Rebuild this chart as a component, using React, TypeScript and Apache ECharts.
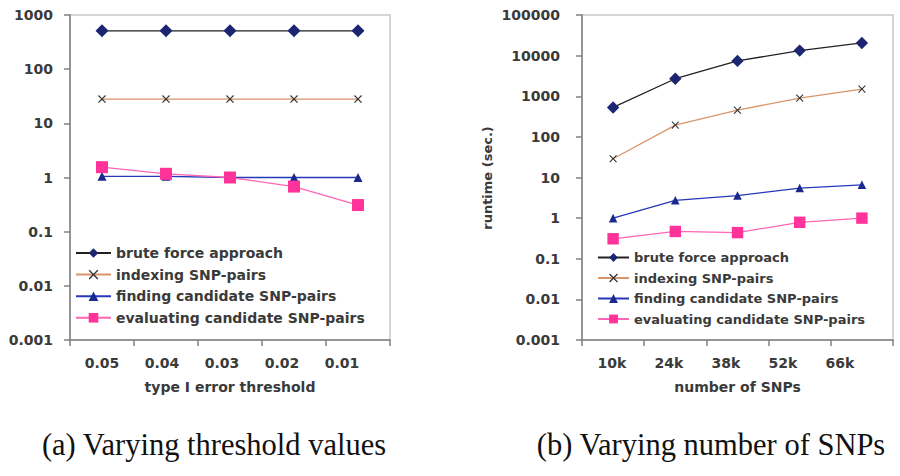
import React, { useEffect, useRef } from "react";
import * as echarts from "echarts";

const seriesNames = [
  "brute force approach",
  "indexing SNP-pairs",
  "finding candidate SNP-pairs",
  "evaluating candidate SNP-pairs",
];

const leftCategories = ["0.05", "0.04", "0.03", "0.02", "0.01"];
const leftBrute = [510, 510, 510, 510, 510];
const leftIndexing = [28, 28, 28, 28, 28];
const leftFinding = [1.05, 1.05, 1.0, 1.0, 1.0];
const leftEval = [1.55, 1.17, 1.0, 0.68, 0.31];

const rightCategories = ["10k", "24k", "38k", "52k", "66k"];
const rightBrute = [530, 2700, 7400, 13300, 20500];
const rightIndexing = [29, 195, 455, 900, 1500];
const rightFinding = [1.0, 2.75, 3.6, 5.5, 6.6];
const rightEval = [0.31, 0.47, 0.44, 0.79, 1.0];

const leftYMin = 0.001;
const leftYMax = 1000;
const rightYMin = 0.001;
const rightYMax = 100000;

const leftXName = "type I error threshold";
const rightXName = "number of SNPs";
const yName = "runtime (sec.)";
const captionA = "(a) Varying threshold values";
const captionB = "(b) Varying number of SNPs";

const FONT = "DejaVu Sans";
const TXT = "#3a3a3a";
const AXIS = "#808080";

const crossPath =
  "path://M0,1 L1,0 L5,4 L9,0 L10,1 L6,5 L10,9 L9,10 L5,6 L1,10 L0,9 L4,5 Z";

const styles = [
  { line: "#222222", mark: "#1b2570", symbol: "diamond", size: 13 },
  { line: "#d9956a", mark: "#333333", symbol: crossPath, size: 8 },
  { line: "#2438b8", mark: "#1a2a8c", symbol: "triangle", size: 9 },
  { line: "#ff66b5", mark: "#ff3399", symbol: "rect", size: 12 },
];

function fmtLog(v: number) {
  return String(Number(v.toPrecision(6)));
}

function makeSeries(data: number[][], axisIdx: number, sizeScale: number) {
  return data.map((d, i) => ({
    name: seriesNames[i],
    type: "line",
    xAxisIndex: axisIdx,
    yAxisIndex: axisIdx,
    data: d,
    symbol: styles[i].symbol,
    symbolSize: styles[i].size * sizeScale,
    lineStyle: { color: styles[i].line, width: 1.3 },
    itemStyle: { color: styles[i].mark },
    z: i === 3 ? 3 : 2,
  }));
}

export default function App() {
  const ref = useRef<HTMLDivElement>(null);
  useEffect(() => {
    if (!ref.current) return;
    const chart = echarts.init(ref.current, undefined, { renderer: "svg" });
    const yAxisCommon = (min: number, max: number, margin: number, gridIndex: number) => ({
      type: "log",
      logBase: 10,
      min,
      max,
      gridIndex,
      axisLine: { show: true, lineStyle: { color: AXIS, width: 1.5 } },
      axisTick: { show: true, length: 6, lineStyle: { color: AXIS, width: 1.5 } },
      axisLabel: {
        margin,
        color: TXT,
        fontFamily: FONT,
        fontWeight: "bold",
        fontSize: 14,
        formatter: (v: number) => fmtLog(v),
      },
      splitLine: { show: false },
      minorTick: { show: false },
    });
    const xMain = (cats: string[], gridIndex: number, name: string) => ({
      type: "category",
      gridIndex,
      data: cats,
      boundaryGap: true,
      axisLine: { show: true, lineStyle: { color: AXIS, width: 1.5 } },
      axisTick: { show: true, length: 6, lineStyle: { color: AXIS, width: 1.5 } },
      axisLabel: { show: false },
      name,
      nameLocation: "middle",
      nameGap: 40,
      nameTextStyle: { color: TXT, fontFamily: FONT, fontWeight: "bold", fontSize: 14 },
    });
    const xLabels = (cats: string[], gridIndex: number) => ({
      type: "category",
      gridIndex,
      data: cats,
      boundaryGap: true,
      axisLine: { show: false },
      axisTick: { show: false },
      axisLabel: {
        show: true,
        margin: 16,
        color: TXT,
        fontFamily: FONT,
        fontWeight: "bold",
        fontSize: 14,
      },
    });
    const hiddenY = (gridIndex: number) => ({
      type: "value",
      gridIndex,
      show: false,
    });
    const legendCommon = {
      orient: "vertical",
      selectedMode: false,
      padding: 0,
      textStyle: { color: TXT, fontFamily: FONT, fontWeight: "bold" },
    };
    chart.setOption({
      animation: false,
      backgroundColor: "#ffffff",
      grid: [
        { left: 70, right: 510, top: 15, bottom: 136, show: true, borderColor: "#c8c8c8", borderWidth: 1.5 },
        { left: 582, right: 7, top: 15, bottom: 136, show: true, borderColor: "#c8c8c8", borderWidth: 1.5 },
        { left: 72, width: 300, top: 15, bottom: 136 },
        { left: 583.5, width: 285, top: 15, bottom: 136 },
      ],
      xAxis: [
        xMain(leftCategories, 0, leftXName),
        xMain(rightCategories, 1, rightXName),
        xLabels(leftCategories, 2),
        xLabels(rightCategories, 3),
      ],
      yAxis: [
        yAxisCommon(leftYMin, leftYMax, 17, 0),
        yAxisCommon(rightYMin, rightYMax, 22, 1),
        hiddenY(2),
        hiddenY(3),
      ],
      legend: [
        {
          ...legendCommon,
          left: 75,
          top: 246,
          itemWidth: 35,
          itemHeight: 12,
          itemGap: 7.6,
          data: seriesNames,
          textStyle: { ...legendCommon.textStyle, fontSize: 14 },
        },
        {
          ...legendCommon,
          left: 597,
          top: 251,
          itemWidth: 31,
          itemHeight: 11,
          itemGap: 7.5,
          data: seriesNames,
          textStyle: { ...legendCommon.textStyle, fontSize: 13 },
        },
      ],
      series: [
        ...makeSeries([leftBrute, leftIndexing, leftFinding, leftEval], 0, 1),
        ...makeSeries([rightBrute, rightIndexing, rightFinding, rightEval], 1, 0.95),
      ],
      graphic: [
        {
          type: "text",
          x: -6.5,
          y: 178,
          rotation: Math.PI / 2,
          style: {
            text: yName,
            align: "center",
            verticalAlign: "middle",
            fill: TXT,
            font: `bold 13px "${FONT}"`,
          },
        },
        {
          type: "text",
          x: 487.5,
          y: 178,
          rotation: Math.PI / 2,
          style: {
            text: yName,
            align: "center",
            verticalAlign: "middle",
            fill: TXT,
            font: `bold 13px "${FONT}"`,
          },
        },
        {
          type: "text",
          x: 214,
          y: 445,
          style: {
            text: captionA,
            align: "center",
            verticalAlign: "middle",
            fill: "#111111",
            font: `30.5px "Liberation Serif"`,
          },
        },
        {
          type: "text",
          x: 711,
          y: 445,
          style: {
            text: captionB,
            align: "center",
            verticalAlign: "middle",
            fill: "#111111",
            font: `30.5px "Liberation Serif"`,
          },
        },
      ],
    });
    return () => chart.dispose();
  }, []);
  return (
    <div
      ref={ref}
      style={{ position: "absolute", left: 0, top: 0, width: 900, height: 476, background: "#fff" }}
    />
  );
}
